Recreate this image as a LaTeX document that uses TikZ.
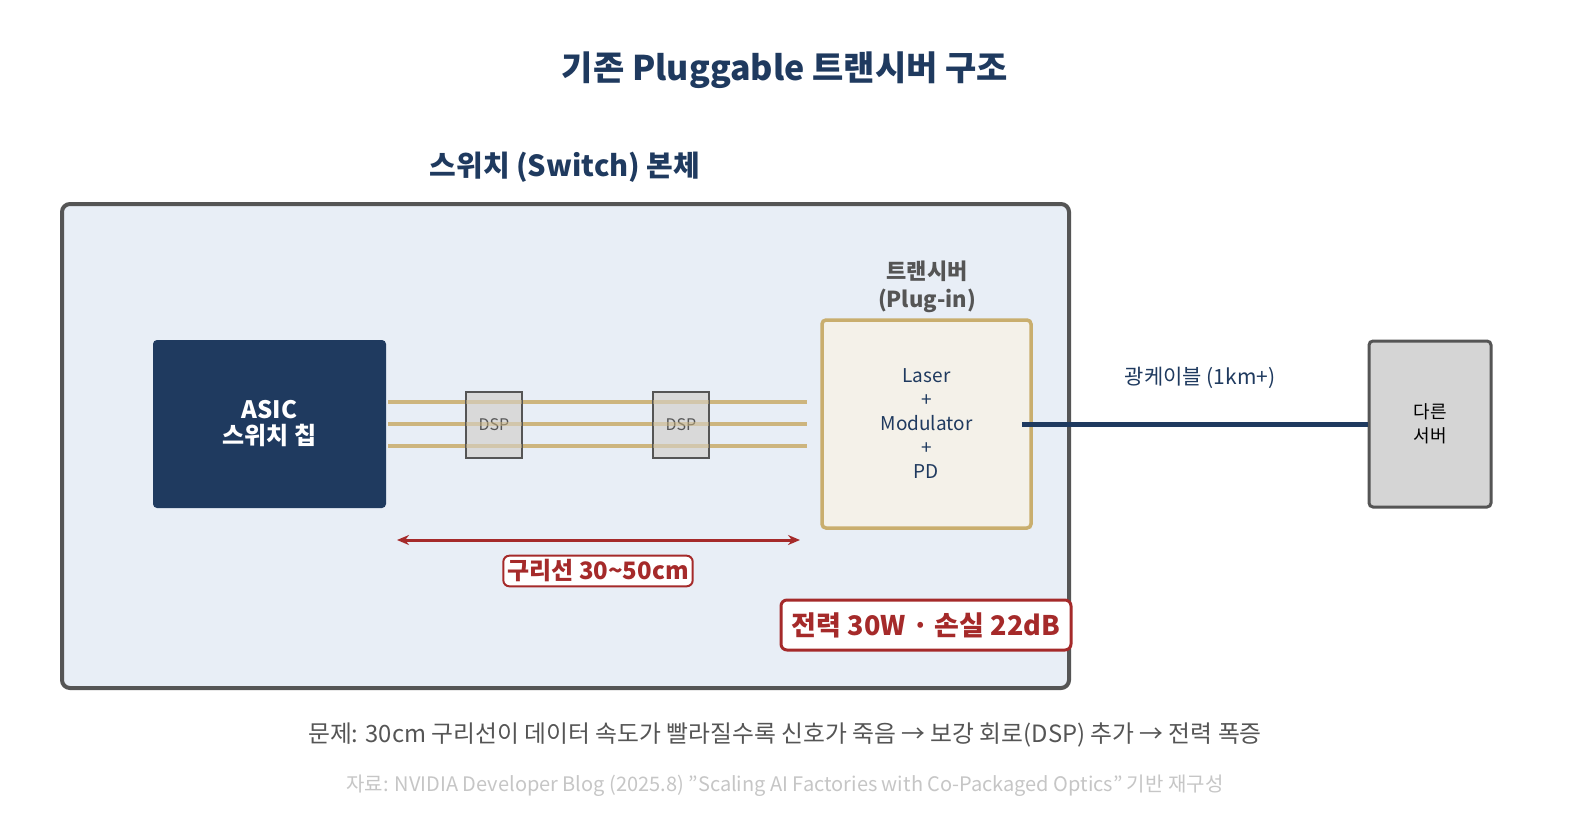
\documentclass[tikz,border=0pt]{standalone}
\usepackage{fontspec}
\setmainfont{Noto Sans CJK KR}
\usetikzlibrary{arrows.meta}
\definecolor{navy}{HTML}{1F3A5F}
\definecolor{dgray}{HTML}{555555}
\definecolor{gold}{HTML}{C9AE6E}
\definecolor{wire}{HTML}{CDB57E}
\definecolor{dred}{HTML}{A52A2A}
\definecolor{bgblue}{HTML}{E8EEF6}
\definecolor{cream}{HTML}{F4F1E9}
\newcommand{\fs}[2]{\fontsize{#1}{#2}\selectfont}
\begin{document}
\begin{tikzpicture}[x=1pt,y=-1pt,
  wirel/.style={wire,line width=3.5pt},
  dsp/.style={draw=dgray,line width=2pt,fill=gray!30,text=dgray,minimum width=56pt,minimum height=66pt,font=\fs{16}{18}},
  redbox/.style={draw=dred,fill=white,text=dred,rounded corners=6pt}]
\useasboundingbox (0,0) rectangle (1570,839);
\fill[white] (0,0) rectangle (1570,839);
\node[text=navy,font=\fs{34}{40}\bfseries] (title) at (785,70) {기존 Pluggable 트랜시버 구조};
\node[text=navy,font=\fs{29}{34}\bfseries] (sw) at (565,167) {스위치 (Switch) 본체};
\draw[dgray,line width=4pt,fill=bgblue,rounded corners=8pt] (62,204) rectangle (1069,688);
\node[fill=navy,rounded corners=4pt,minimum width=233pt,minimum height=168pt,text=white,font=\fs{24}{26}\bfseries,align=center] (asic) at (269.5,424) {ASIC\\스위치 칩};
\coordinate (w0) at (388,402); \coordinate (w0e) at (807,402);
\coordinate (w1) at (388,424); \coordinate (w1e) at (807,424);
\coordinate (w2) at (388,446); \coordinate (w2e) at (807,446);
\draw[wirel] (w0) -- (w0e); \draw[wirel] (w1) -- (w1e); \draw[wirel] (w2) -- (w2e);
\node[dsp] (d1) at (494,425) {DSP};
\node[dsp] (d2) at (681,425) {DSP};
\begin{scope}[opacity=0.5]
\draw[wirel] (466,402) -- (522,402); \draw[wirel] (466,424) -- (522,424); \draw[wirel] (466,446) -- (522,446);
\draw[wirel] (653,402) -- (709,402); \draw[wirel] (653,424) -- (709,424); \draw[wirel] (653,446) -- (709,446);
\end{scope}
\node[text=dgray,font=\fs{22}{28}\bfseries,align=center] (tl) at (927,287) {트랜시버\\(Plug-in)};
\node[draw=gold,line width=3.5pt,fill=cream,rounded corners=4pt,minimum width=209pt,minimum height=208pt,text=navy,font=\fs{19}{24},align=center] (tr) at (926.5,424) {Laser\\+\\Modulator\\+\\PD};
\node[draw=dgray,line width=3pt,fill=gray!33,rounded corners=4pt,minimum width=122pt,minimum height=166pt,font=\fs{18}{24},align=center] (srv) at (1430,424) {다른\\서버};
\coordinate (f0) at (1022,424);
\draw[navy,line width=5pt] (f0) -- (srv.west);
\node[text=navy,font=\fs{21}{24}] (fl) at (1200,378) {광케이블 (1km+)};
\coordinate (a0) at (397,540); \coordinate (a1) at (800,540);
\draw[dred,line width=3pt,{Stealth[length=12pt,width=10pt]}-{Stealth[length=12pt,width=10pt]}] (a0) -- (a1);
\node[redbox,line width=2pt,font=\fs{24}{28}\bfseries,inner sep=4pt] (cu) at (598,571) {구리선 30\textasciitilde50cm};
\node[redbox,line width=3pt,font=\fs{27}{30}\bfseries,minimum width=290pt,minimum height=50pt] (pw) at (926,625) {전력 30W · 손실 22dB};
\node[text=dgray,font=\fs{23.8}{26}] (prob) at (785,735) {문제: 30cm 구리선이 데이터 속도가 빨라질수록 신호가 죽음 → 보강 회로(DSP) 추가 → 전력 폭증};
\node[text=gray!45,font=\fs{20}{24}] (src) at (785,786) {자료: NVIDIA Developer Blog (2025.8) {\char"22}Scaling AI Factories with Co-Packaged Optics{\char"22} 기반 재구성};
\end{tikzpicture}
\end{document}
